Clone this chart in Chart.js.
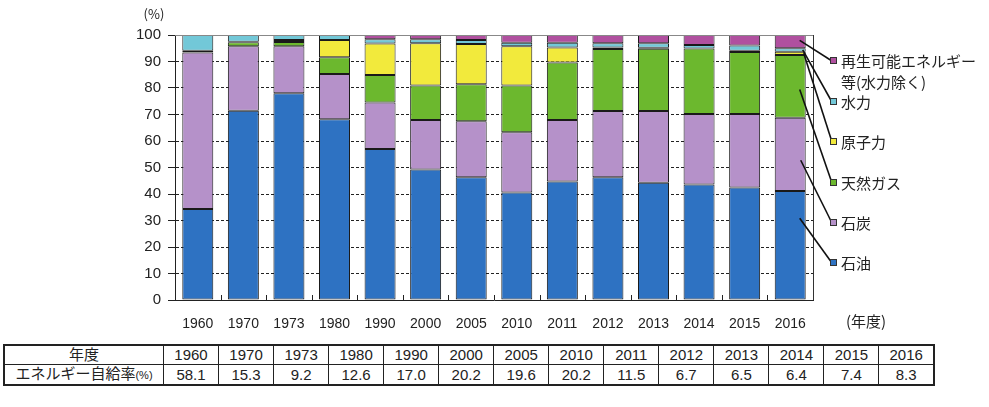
<!DOCTYPE html>
<html>
<head>
<meta charset="utf-8">
<script src="https://cdn.jsdelivr.net/npm/chart.js@4.4.1/dist/chart.umd.min.js"></script>
<style>
    body { margin: 0; background: #fff; font-family: "Liberation Sans", "Noto Sans CJK JP", sans-serif; }
    #wrap { position: relative; width: 989px; height: 407px; }
    #chart { position: absolute; left: 0; top: 0; }
    #tbl {
        position: absolute; left: 3px; top: 344px; width: 932px;
        border-collapse: collapse; table-layout: fixed;
        border: 2px solid #222; font-size: 15px; color: #222;
    }
    #tbl td { border: 1px solid #222; text-align: center; padding: 0; height: 18px; line-height: 18px; }
    #tbl td.head { width: 158px; }
    #tbl small { font-size: 11px; }
</style>
</head>
<body>
<div id="wrap">
    <canvas id="chart" width="989" height="340"></canvas>
    <table id="tbl">
        <tr id="rowYears"><td class="head">年度</td></tr>
        <tr id="rowRate"><td class="head">エネルギー自給率<small>(%)</small></td></tr>
    </table>
</div>
<script>
// 年度
const years = ['1960', '1970', '1973', '1980', '1990', '2000', '2005', '2010', '2011', '2012', '2013', '2014', '2015', '2016'];

// 一次エネルギー供給の構成比 (%)
const oil     = [34.3, 71.4, 78.0, 68.2, 57.0, 49.2, 46.3, 40.6, 44.7, 46.3, 44.2, 43.6, 42.5, 41.1];
const coal    = [59.1, 24.4, 17.8, 17.1, 17.5, 18.7, 21.2, 22.7, 23.2, 25.0, 27.1, 26.6, 27.7, 27.7];
const gas     = [0.7, 1.5, 1.6, 6.3, 10.4, 13.0, 13.9, 17.6, 21.7, 23.4, 23.5, 24.7, 23.4, 23.7];
const nuclear = [0.0, 0.2, 0.7, 6.5, 11.9, 16.0, 15.2, 14.9, 5.7, 0.6, 0.4, 0.0, 0.5, 1.2];
const hydro   = [5.9, 2.5, 1.9, 1.9, 1.6, 1.5, 1.5, 1.3, 1.8, 1.6, 1.7, 1.3, 1.9, 1.3];
const renew   = [0.0, 0.0, 0.0, 0.0, 1.6, 1.6, 1.9, 2.9, 2.9, 3.1, 3.1, 3.8, 4.0, 5.0];

// エネルギー自給率 (%)
const selfRate = ['58.1', '15.3', '9.2', '12.6', '17.0', '20.2', '19.6', '20.2', '11.5', '6.7', '6.5', '6.4', '7.4', '8.3'];

const yTicks = [0, 10, 20, 30, 40, 50, 60, 70, 80, 90, 100];

const FONT = '"Liberation Sans", "Noto Sans CJK JP", sans-serif';
const JP = '"Noto Sans CJK JP", "Liberation Sans", sans-serif';

// 表を作る
const rowYears = document.getElementById('rowYears');
const rowRate = document.getElementById('rowRate');
years.forEach((y, i) => {
    const a = document.createElement('td');
    a.textContent = y;
    rowYears.appendChild(a);
    const b = document.createElement('td');
    b.textContent = selfRate[i];
    rowRate.appendChild(b);
});

const series = [
    { label: '石油', data: oil, color: '#2e72c2', labelY: 263, frac: 0.75, inset: 6 },
    { label: '石炭', data: coal, color: '#b591c9', labelY: 223, frac: 0.42, inset: 5 },
    { label: '天然ガス', data: gas, color: '#6cb82e', labelY: 183, frac: 0.45, inset: 6 },
    { label: '原子力', data: nuclear, color: '#f2ea3c', labelY: 142, frac: 0.5, inset: 2 },
    { label: '水力', data: hydro, color: '#72c8d8', labelY: 102, frac: 0.5, inset: 3 },
    { label: '再生可能エネルギー', data: renew, color: '#b0509f', labelY: 61, frac: 0.6, inset: 6 }
];

// 凡例と引き出し線、枠、目盛りを描くプラグイン
const decoPlugin = {
    id: 'deco',
    afterDraw(chart) {
        const { ctx, chartArea, scales } = chart;
        const y = scales.y;
        const last = years.length - 1;
        ctx.save();

        // 上と右の枠
        ctx.strokeStyle = '#888';
        ctx.lineWidth = 1;
        ctx.beginPath();
        ctx.moveTo(chartArea.left, chartArea.top + 0.5);
        ctx.lineTo(chartArea.right, chartArea.top + 0.5);
        ctx.stroke();
        ctx.strokeStyle = '#333';
        ctx.beginPath();
        ctx.moveTo(chartArea.right + 0.5, chartArea.top);
        ctx.lineTo(chartArea.right + 0.5, chartArea.bottom);
        ctx.stroke();

        // x軸の内向き目盛り
        ctx.strokeStyle = '#222';
        const step = (chartArea.right - chartArea.left) / years.length;
        for (let i = 1; i < years.length; i++) {
            const x = Math.round(chartArea.left + step * i) + 0.5;
            ctx.beginPath();
            ctx.moveTo(x, chartArea.bottom);
            ctx.lineTo(x, chartArea.bottom - 5);
            ctx.stroke();
        }

        // (%) と (年度)
        ctx.fillStyle = '#222';
        ctx.font = '13px ' + JP;
        ctx.textAlign = 'center';
        ctx.textBaseline = 'middle';
        ctx.fillText('(%)', 154, 14);
        ctx.font = '15px ' + JP;
        ctx.fillText('(年度)', 866, 321);

        // 凡例
        let bottom = 0;
        series.forEach((s, i) => {
            const bar = chart.getDatasetMeta(i).data[last];
            const v = s.data[last];
            const ay = y.getPixelForValue(bottom + v * s.frac);
            bottom += v;
            const ax = bar.x + bar.width / 2 - s.inset;
            ctx.strokeStyle = '#111';
            ctx.lineWidth = 1.6;
            ctx.beginPath();
            ctx.moveTo(ax, ay);
            ctx.lineTo(832, s.labelY);
            ctx.stroke();

            ctx.fillStyle = s.color;
            ctx.fillRect(830, s.labelY - 4, 7, 7);
            ctx.strokeStyle = '#333';
            ctx.lineWidth = 1;
            ctx.strokeRect(830.5, s.labelY - 3.5, 6, 6);

            ctx.fillStyle = '#222';
            ctx.font = '15px ' + JP;
            ctx.textAlign = 'left';
            ctx.fillText(s.label, 841, s.labelY);
        });
        ctx.fillText('等(水力除く)', 841, 82);
        ctx.restore();
    }
};

const ctx = document.getElementById('chart').getContext('2d');
const chart = new Chart(ctx, {
    type: 'bar',
    data: {
        labels: years,
        datasets: series.map(s => ({
            label: s.label,
            // 0 の区分は枠線を描かない
            data: s.data.map(v => (v === 0 ? null : v)),
            backgroundColor: s.color,
            borderColor: '#1a1a1a',
            borderWidth: 1,
            borderSkipped: false,
            barPercentage: 0.68,
            categoryPercentage: 1.0
        }))
    },
    options: {
        responsive: false,
        animation: false,
        layout: { padding: { left: 0, right: 176, top: 35, bottom: 0 } },
        scales: {
            x: {
                stacked: true,
                grid: { display: false },
                border: { color: '#222', width: 1 },
                ticks: { color: '#222', font: { family: FONT, size: 14 }, padding: 8, maxRotation: 0 },
                afterFit(scale) { scale.height = 40; }
            },
            y: {
                stacked: true,
                min: 0,
                max: 100,
                afterBuildTicks(scale) { scale.ticks = yTicks.map(v => ({ value: v })); },
                grid: { color: '#222', tickLength: 7, lineWidth: 1, tickBorderDash: [] },
                border: { color: '#222', width: 1, dash: [3, 2] },
                ticks: { color: '#222', font: { family: FONT, size: 15 }, padding: 7 },
                afterFit(scale) { scale.width = 175; }
            }
        },
        plugins: {
            legend: { display: false },
            tooltip: { enabled: false }
        }
    },
    plugins: [decoPlugin]
});
</script>
</body>
</html>
